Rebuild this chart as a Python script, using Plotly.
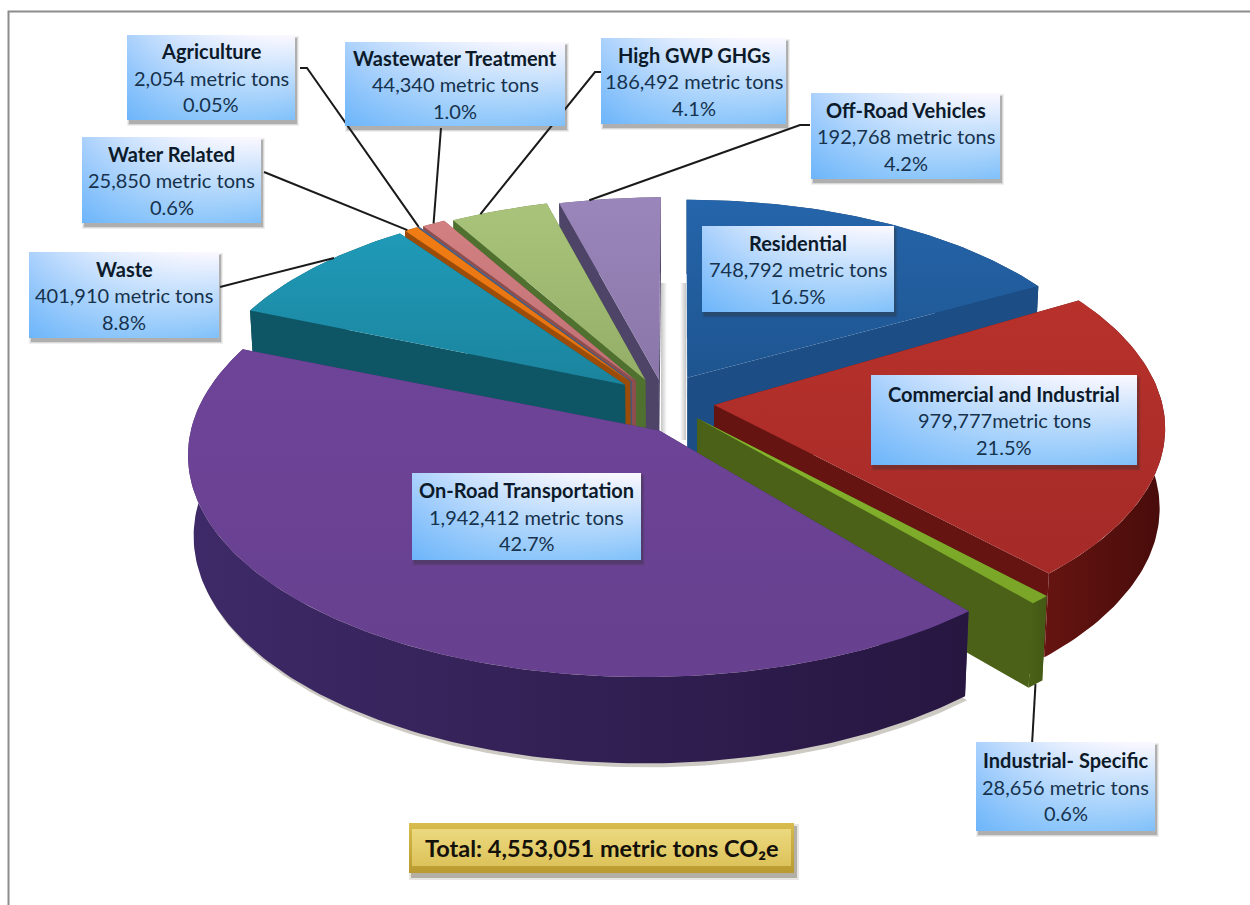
import math
import plotly.graph_objects as go

# ---------- data ----------
categories = ["Residential", "Commercial and Industrial", "Industrial- Specific", "On-Road Transportation",
              "Waste", "Water Related", "Agriculture", "Wastewater Treatment", "High GWP GHGs", "Off-Road Vehicles"]
values = [748792, 979777, 28656, 1942412, 401910, 25850, 2054, 44340, 186492, 192768]
tons_text = ["748,792 metric tons", "979,777metric tons", "28,656 metric tons", "1,942,412 metric tons",
             "401,910 metric tons", "25,850 metric tons", "2,054 metric tons", "44,340 metric tons",
             "186,492 metric tons", "192,768 metric tons"]
pct_text = ["16.5%", "21.5%", "0.6%", "42.7%", "8.8%", "0.6%", "0.05%", "1.0%", "4.1%", "4.2%"]
total_text = "Total: 4,553,051 metric tons CO₂e"

# ---------- style / layout ----------
top_colors = [("#2565ab", "#1e5590"), ("#b8312b", "#a42a28"), ("#86b52c", "#7aa528"), ("#6e4498", "#67408f"),
              ("#1f9ab8", "#1b849e"), ("#f07c14", "#e0700f"), ("#4d6f9e", "#4d6f9e"), ("#d28082", "#c07074"),
              ("#a9c47a", "#94ae68"), ("#9b86bb", "#8a76a8")]
wall_colors = [("#1c4d85", "#143a66"), ("#661411", "#470c0a"), ("#4a6117", "#445915"), ("#3e2a68", "#261640"),
               ("#0e5666", "#0c4a58"), ("#9a4c08", "#8a4407"), ("#3c5a80", "#3c5a80"), ("#8e4e4e", "#8e4e4e"),
               ("#50702f", "#6b7f4a"), ("#4d4468", "#55506b")]
CX, CY, F, SIN_T, K, H = 680.0, 410.0, 428.0, 0.48, 0.11, 0.215
COS_T = math.sqrt(1 - SIN_T ** 2)
# explosion of each slice on the pie plane (apex), extra shift of its rim, and rim radius
offsets = [(0.017, 0.16), (0.08, 0.025), (0.04, -0.04), (-0.047, -0.10), (-0.13, 0.125),
           (-0.118, 0.14), (-0.115, 0.142), (-0.105, 0.145), (-0.082, 0.148), (-0.05, 0.15)]
rim_shift = [(0, -0.04), (0, 0), (0, 0), (-0.03, 0), (0, 0), (0, 0), (0, 0), (0, 0), (0, 0), (0, 0)]
radii = [1.015, 1.05, 1.09, 1.055, 1, 1, 1, 1, 1, 1]
boxes = [(702, 894, 226, 312), (871, 1137, 375, 465), (976, 1155, 742, 831), (412, 641, 473, 560),
         (29, 219, 252, 338), (82, 261, 137, 223), (127, 295, 35, 120), (345, 565, 42, 126),
         (601, 786, 38, 124), (811, 1000, 93, 179)]
leader_start = {2: [(1032, 745)], 4: [(220, 287)], 5: [(264, 172)], 6: [(300, 68), (307, 68)],
                7: [(441, 128)], 8: [(603, 72), (595, 72)], 9: [(810, 125), (800, 125)]}
leader_angle_frac = {2: 0.5, 4: 0.62, 5: 0.2, 6: 0.5, 7: 0.5, 8: 0.3, 9: 0.3}
total_box = (409, 794, 823, 873)
draw_order = [9, 8, 7, 6, 5, 4, 0, 1, 2, 3]


def proj(X, Y, Z):
    w = 1 + K * (Y * COS_T - Z * SIN_T)
    return CX + F * X / w, CY + F * (-Y * SIN_T - Z * COS_T) / w


total = sum(values)
angles, run = [], 0.0
for v in values:
    a0 = run / total * 2 * math.pi
    run += v
    angles.append((a0, run / total * 2 * math.pi))


def rim(i, t, z=0.0):
    ox, oy = offsets[i]
    sx, sy = rim_shift[i]
    return proj(ox + sx + radii[i] * math.sin(t), oy + sy + radii[i] * math.cos(t), z)


def apex(i, z=0.0):
    ox, oy = offsets[i]
    return proj(ox, oy, z)


def arc(i, z=0.0):
    a0, a1 = angles[i]
    n = max(2, int(math.degrees(a1 - a0)) + 1)
    return [rim(i, a0 + (a1 - a0) * k / n, z) for k in range(n + 1)]


fig = go.Figure()


def poly(ring, c1, c2=None, kind="vertical"):
    xs = [p[0] for p in ring] + [ring[0][0]]
    ys = [p[1] for p in ring] + [ring[0][1]]
    if c2 is None:
        kw = dict(fillcolor=c1)
    else:
        # on the reversed y axis a vertical gradient runs bottom to top
        scale = [[0, c2], [1, c1]] if kind == "vertical" else [[0, c1], [1, c2]]
        kw = dict(fillgradient=dict(type=kind, colorscale=scale))
    fig.add_trace(go.Scatter(x=xs, y=ys, mode="lines", line=dict(width=0), fill="toself",
                             hoverinfo="skip", showlegend=False, **kw))


def line(pts, color="#1a1a1a", width=2):
    fig.add_trace(go.Scatter(x=[p[0] for p in pts], y=[p[1] for p in pts], mode="lines",
                             line=dict(color=color, width=width), hoverinfo="skip", showlegend=False))


# frame
line([(8.5, 905), (8.5, 11.5), (1250, 11.5)], "#8c8c8c", 2)

# faint shadows beside the central gap
poly([(661, 283), (667, 283), (667, 440), (661, 440)], "rgba(150,150,150,0.55)", "rgba(150,150,150,0)", "horizontal")
poly([(680, 283), (686, 283), (686, 440), (680, 440)], "rgba(150,150,150,0)", "rgba(150,150,150,0.55)", "horizontal")

# pie
for i in draw_order:
    top = arc(i)
    bottom = arc(i, -H)
    a_top, a_bot = apex(i), apex(i, -H)
    if i == 3:  # soft contact shadow below the front wall
        poly([(p[0] + 2, p[1] + 4) for p in bottom] + [a_bot], "rgba(90,80,60,0.30)")
    mid = sum(angles[i]) / 2
    rim_in_back = math.cos(mid) > 0
    if rim_in_back:
        poly(top + bottom[::-1], wall_colors[i][1])
    poly([a_top, top[0], bottom[0], a_bot], wall_colors[i][0])
    poly([a_top, top[-1], bottom[-1], a_bot], wall_colors[i][0])
    if not rim_in_back:
        poly(top + bottom[::-1], wall_colors[i][0], wall_colors[i][1], "horizontal")
    poly([a_top] + top, top_colors[i][0], top_colors[i][1], "vertical")

# leaders
for i, start in leader_start.items():
    a0, a1 = angles[i]
    t = a0 + (a1 - a0) * leader_angle_frac[i]
    end = rim(i, t, -H if i == 2 else 0.0)
    line(start + [end])


def rect(b):
    x0, x1, y0, y1 = b
    return [(x0, y0), (x1, y0), (x1, y1), (x0, y1)]


# label boxes
for b in boxes:
    x0, x1, y0, y1 = b
    for grow, alpha in ((2, 0.08), (1, 0.12), (0, 0.25)):
        poly(rect((x0 + 2 - grow, x1 + 2 + grow, y0 + 3 - grow, y1 + 4 + grow)), f"rgba(50,50,50,{alpha})")
    poly(rect(b), "#fbf8ff", "#7fc0fa", "vertical")
    poly(rect(b), "rgba(90,170,250,0.5)", "rgba(255,255,255,0.0)", "horizontal")

# total box
x0, x1, y0, y1 = total_box
for grow, alpha in ((2, 0.12), (0, 0.3)):
    poly(rect((x0 + 2 - grow, x1 + 3 + grow, y0 + 3 - grow, y1 + 5 + grow)), f"rgba(60,50,20,{alpha})")
poly(rect(total_box), "#d8bc4e", "#b99a30", "vertical")
poly(rect((x0 + 3, x1 - 3, y0 + 6, y1 - 7)), "#ecd97f", "#dcc25a", "vertical")

# text
anns = []
for name, tons, pct, b in zip(categories, tons_text, pct_text, boxes):
    x0, x1, y0, y1 = b
    xc, yc = (x0 + x1) / 2, (y0 + y1) / 2
    for txt, dy, bold in ((name, -26.5, True), (tons, 0, False), (pct, 26.5, False)):
        anns.append(dict(x=xc, y=yc + dy, xref="x", yref="y", text=f"<b>{txt}</b>" if bold else txt,
                         showarrow=False, xanchor="center", yanchor="middle",
                         font=dict(family="Lato", size=20, color="#0c1a2a" if bold else "#16324d")))
anns.append(dict(x=(total_box[0] + total_box[1]) / 2, y=(total_box[2] + total_box[3]) / 2,
                 xref="x", yref="y", text=f"<b>{total_text}</b>",
                 showarrow=False, xanchor="center", yanchor="middle",
                 font=dict(family="Lato", size=23.5, color="#14100a")))

fig.update_layout(width=1250, height=905, margin=dict(l=0, r=0, t=0, b=0), paper_bgcolor="#ffffff",
                  plot_bgcolor="#ffffff", showlegend=False, annotations=anns,
                  xaxis=dict(range=[0, 1250], visible=False, fixedrange=True),
                  yaxis=dict(range=[905, 0], visible=False, fixedrange=True))
fig.write_html("out.html", config={"displayModeBar": False},
               post_script="document.body.style.margin='0';document.documentElement.style.overflow='hidden';")
